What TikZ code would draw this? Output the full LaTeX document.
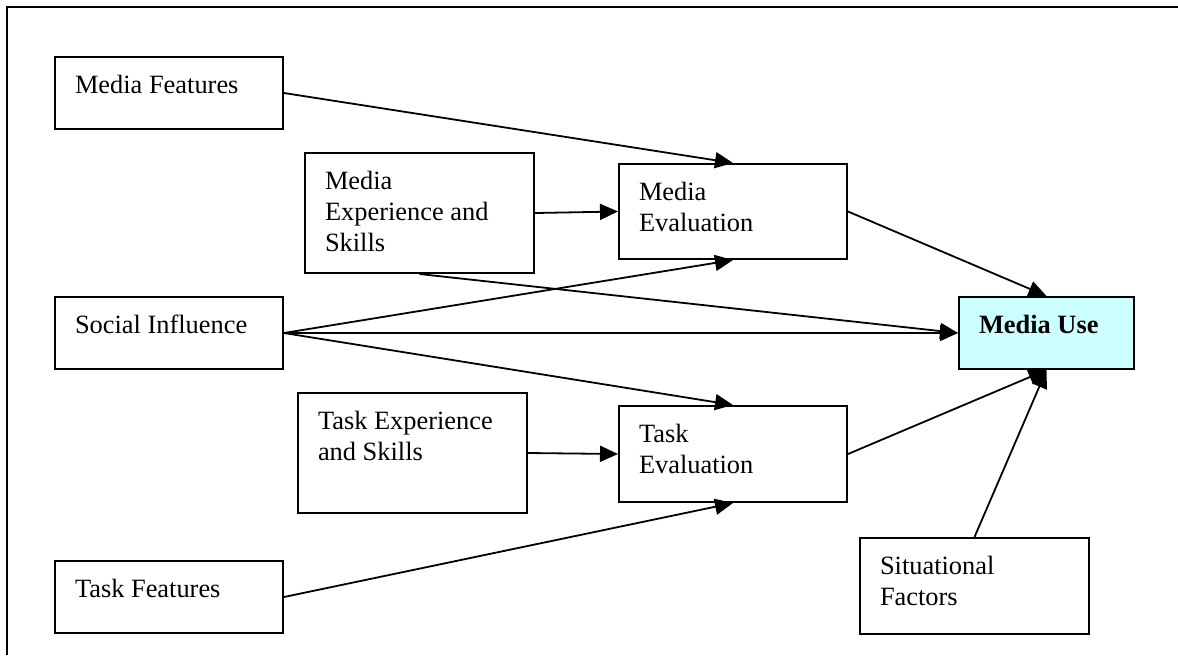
\documentclass[tikz,border=0pt]{standalone}
\usepackage{fontspec}
\setmainfont{Liberation Serif}
\usetikzlibrary{arrows.meta}

\definecolor{usefill}{HTML}{CCFFFF}
% top-aligned text block inside a box of fixed size
\newcommand{\boxtext}[3]{\parbox[c][#2][t]{#1}{\raggedright\strut #3}}

\begin{document}
\begin{tikzpicture}[
    x=0.5pt, y=-0.5pt,
    every node/.style={font=\fontsize{13.2}{15.5}\selectfont},
    box/.style={draw, line width=1pt, anchor=north west,
      inner xsep=10pt, inner ysep=7.5pt},
    link/.style={line width=0.9pt, -{Triangle[length=9pt,width=8pt]}}
  ]
    \useasboundingbox (0,0) rectangle (1178,655);
    \draw[line width=1pt] (7,655) -- (7,7) -- (1178,7);

    \node[box] (mfeat) at (54,56) {\boxtext{94pt}{21pt}{Media Features}};
    \node[box] (mexp) at (304,152) {\boxtext{94.5pt}{45pt}{Media\\ Experience and\\ Skills}};
    \node[box] (meval) at (618,163) {\boxtext{94pt}{32.5pt}{Media\\ Evaluation}};
    \node[box] (social) at (54,296) {\boxtext{94pt}{21pt}{Social Influence}};
    \node[box, fill=usefill] (muse) at (958,296) {\boxtext{67.5pt}{21pt}{\textbf{Media Use}}};
    \node[box] (texp) at (297,392) {\boxtext{94.5pt}{45pt}{Task Experience\\ and Skills}};
    \node[box] (teval) at (618,405) {\boxtext{94pt}{33pt}{Task\\ Evaluation}};
    \node[box] (tfeat) at (54,560) {\boxtext{94pt}{21pt}{Task Features}};
    \node[box] (sit) at (859,537) {\boxtext{94.5pt}{33pt}{Situational\\ Factors}};

    \draw[link] (mfeat.east) -- (meval.north);
    \draw[link] (mexp.east) -- (meval.west);
    \draw[link] (meval.east) -- (muse.north);
    \draw[link] (social.east) -- (meval.south);
    \draw[link] (mexp.south) -- (muse.west);
    \draw[link] (social.east) -- (muse.west);
    \draw[link] (social.east) -- (teval.north);
    \draw[link] (texp.east) -- (teval.west);
    \draw[link] (teval.east) -- (muse.south);
    \draw[link] (tfeat.east) -- (teval.south);
    \draw[link] (sit.north) -- (muse.south);
\end{tikzpicture}
\end{document}
